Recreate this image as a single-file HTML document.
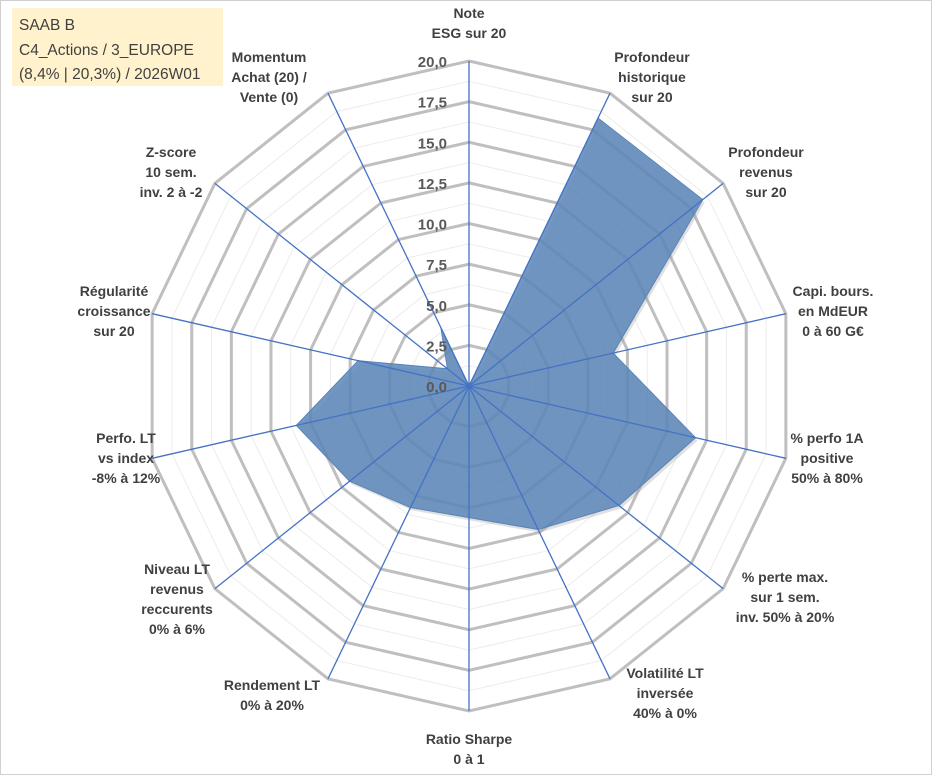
<!DOCTYPE html>
<html><head><meta charset="utf-8">
<style>
html,body{margin:0;padding:0;background:#fff;}
#wrap{position:relative;width:933px;height:776px;overflow:hidden;}
svg{position:absolute;left:0;top:0;}
.lbl{font-family:"Liberation Sans",sans-serif;font-weight:bold;font-size:14px;fill:#404040;}
.tick{font-family:"Liberation Sans",sans-serif;font-weight:bold;font-size:15px;fill:#595959;}
.title{font-family:"Liberation Sans",sans-serif;font-size:15.5px;fill:#404040;}
</style></head><body>
<div id="wrap">
<svg id="chart" width="933" height="776">
<rect x="0.5" y="0.5" width="931" height="774" fill="#fff" stroke="#d0d0d0"/>
<rect x="12" y="8" width="211" height="78" fill="#fff2cc"/>
<text class="title" x="19" y="30">SAAB B</text>
<text class="title" x="19" y="55">C4_Actions / 3_EUROPE</text>
<text class="title" x="19" y="79">(8,4% | 20,3%) / 2026W01</text>
<g id="grid"></g><g id="series"></g><g id="spokes"></g><g id="ticks"></g><g id="labels"></g>
</svg>
</div>
<script>
const categories=[["Note","ESG sur 20"],["Profondeur","historique","sur 20"],["Profondeur","revenus","sur 20"],["Capi. bours.","en MdEUR","0 à 60 G€"],["% perfo 1A","positive","50% à 80%"],["% perte max.","sur 1 sem.","inv. 50% à 20%"],["Volatilité LT","inversée","40% à 0%"],["Ratio Sharpe","0 à 1"],["Rendement LT","0% à 20%"],["Niveau LT","revenus","reccurents","0% à 6%"],["Perfo. LT","vs index","-8% à 12%"],["Régularité","croissance","sur 20"],["Z-score","10 sem.","inv. 2 à -2"],["Momentum","Achat (20) /","Vente (0)"]];
const values=[0,18.3,18.4,9.1,14.3,11.8,9.8,8.1,8.3,9.4,10.9,7.0,1.7,4.0];
const tickValues=[0,2.5,5,7.5,10,12.5,15,17.5,20];
const tickLabels=["0,0","2,5","5,0","7,5","10,0","12,5","15,0","17,5","20,0"];
const labelAnchors=[["middle",469,18],["middle",652,62],["middle",766,157],["middle",833,296],["middle",827,443],["middle",785,582],["middle",665,678],["middle",469,744],["middle",272,690],["middle",177,574],["middle",126,443],["middle",114,296],["middle",171,157],["middle",269,62]];
const NS="http://www.w3.org/2000/svg";
const cx=469,cy=386,R=325,maxV=20,N=categories.length;
function ang(i){return i*2*Math.PI/N;}
function pt(i,v){const r=v/maxV*R;return [cx+r*Math.sin(ang(i)),cy-r*Math.cos(ang(i))];}
function mk(tag,attrs,parent){const e=document.createElementNS(NS,tag);for(const k in attrs)e.setAttribute(k,attrs[k]);parent.appendChild(e);return e;}
const grid=document.getElementById('grid');
for(let k=0;k<tickValues.length-1;k++){
  const v=(tickValues[k]+tickValues[k+1])/2;
  const p=categories.map((c,i)=>pt(i,v).join(',')).join(' ');
  const e=mk('polygon',{points:p,fill:'none',stroke:'#ececec','stroke-width':1},grid);
  
  
}
tickValues.forEach((v,k)=>{
  if(v===0)return;
  const p=categories.map((c,i)=>pt(i,v).join(',')).join(' ');
  const e=mk('polygon',{points:p,fill:'none',stroke:'#bfbfbf','stroke-width':3},grid);
  
  
});
const ser=document.getElementById('series');
const sp=values.map((v,i)=>pt(i,v).join(',')).join(' ');
const shadow=mk('polygon',{points:sp,fill:'#999',opacity:0.3,transform:'translate(2,3)'},ser);


const poly=mk('polygon',{points:sp,fill:'#5b86b9','fill-opacity':0.85,stroke:'#5a84b6','stroke-width':1},ser);


const spokes=document.getElementById('spokes');
categories.forEach((c,i)=>{
  const p=pt(i,maxV);
  const e=mk('line',{x1:cx,y1:cy,x2:p[0],y2:p[1],stroke:'#4472c4','stroke-width':1.3},spokes);
  
  
});
const ticks=document.getElementById('ticks');
tickValues.forEach((v,k)=>{
  const e=mk('text',{x:cx-22,y:cy-v/maxV*R+6,'text-anchor':'end',class:'tick'},ticks);
  e.textContent=tickLabels[k];
  
  
});
const labels=document.getElementById('labels');
categories.forEach((lines,i)=>{
  const a=labelAnchors[i];
  const t=mk('text',{x:a[1],y:a[2],'text-anchor':a[0],class:'lbl'},labels);
  
  
  lines.forEach((l,j)=>{const s=mk('tspan',{x:a[1],dy:j?20:0},t);s.textContent=l;});
});
</script>
</body></html>
